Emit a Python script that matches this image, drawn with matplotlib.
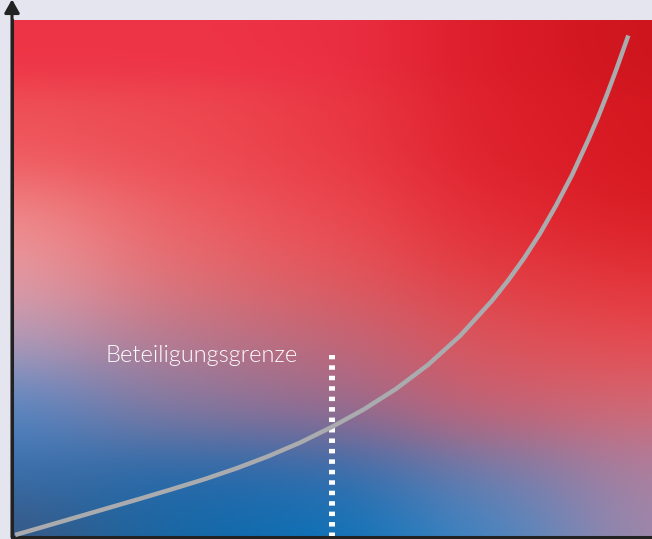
import numpy as np
import matplotlib.pyplot as plt
from matplotlib.colors import to_rgb

# curve (x and y in 0..100 of the plotting box)
curve_x = [0.5, 5, 10, 15, 20, 25, 30, 35, 40, 45, 50, 55, 60, 65, 70, 75, 77.5, 80,
           82.5, 85, 87.5, 90, 91.5, 93, 94.5, 96.3]
curve_y = [0.4, 2.0, 3.8, 5.6, 7.4, 9.25, 11.15, 13.25, 15.6, 18.25, 21.3, 24.7, 28.65,
           33.3, 38.9, 45.7, 49.6, 53.9, 58.7, 64.1, 70.0, 76.7, 81.0, 85.7, 90.7, 97.0]

limit_x = 50
limit_top = 35.2
limit_label = "Beteiligungsgrenze"

# background colour field, sampled on a grid (rows bottom -> top, columns left -> right)
grad_u = [0.0, 0.25, 0.5, 0.75, 1.0]
grad_v = [0.0, 0.12, 0.25, 0.38, 0.5, 0.62, 0.75, 1.0]
grad_rows = [
    ["#3c5278", "#1468a6", "#0472b8", "#3c88c8", "#a888a8"],
    ["#3a70ac", "#2268aa", "#2a6cb0", "#7080b0", "#b080a0"],
    ["#5088c8", "#8a7aa0", "#9a6c90", "#cc6070", "#d46a74"],
    ["#b0a0c0", "#b47a90", "#bc6a7c", "#de545a", "#e84a50"],
    ["#e8a0a8", "#e27074", "#e45a5e", "#e23c42", "#e33338"],
    ["#f09090", "#ec6064", "#ec4a52", "#e22a34", "#da1c24"],
    ["#ee5258", "#ee4a52", "#ea3a46", "#de1f2a", "#d4171f"],
    ["#ee3446", "#ee3447", "#ec3045", "#dc1c28", "#cc141c"],
]


def gradient_image(w=320, h=260, su=0.13, sv=0.075):
    uu, vv = np.meshgrid(np.linspace(0, 1, w), np.linspace(1, 0, h))
    num = np.zeros((h, w, 3))
    den = np.zeros((h, w))
    for v, row in zip(grad_v, grad_rows):
        for u, c in zip(grad_u, row):
            wgt = np.exp(-((uu - u) / su) ** 2 / 2 - ((vv - v) / sv) ** 2 / 2)
            num += wgt[..., None] * np.array(to_rgb(c))
            den += wgt
    return num / den[..., None]


fig = plt.figure(figsize=(6.52, 5.39), dpi=100)
fig.patch.set_facecolor("#e4e5ee")
ax = fig.add_axes([12 / 652, 2 / 539, 640 / 652, 517 / 539])

ax.imshow(gradient_image(), extent=[0, 100, 0, 100], aspect="auto",
          interpolation="bicubic", zorder=0)

ax.plot(curve_x, curve_y, color="#a9abae", lw=3.2, solid_capstyle="butt",
        solid_joinstyle="round", zorder=3)
ax.plot([limit_x, limit_x], [0, limit_top], color="white", lw=4.3,
        linestyle=(0, (0.75, 1.0)), dash_capstyle="butt", zorder=2)
ax.text(limit_x - 5.3, 33.9, limit_label, ha="right", va="baseline",
        fontsize=17, family="Lato", fontweight=300, color="white", zorder=4)

ax.set_xlim(0, 100)
ax.set_ylim(0, 100)
ax.set_xticks([])
ax.set_yticks([])
for s in ["top", "right"]:
    ax.spines[s].set_visible(False)
for s in ["left", "bottom"]:
    ax.spines[s].set_color("#222222")
    ax.spines[s].set_linewidth(2.2)

# axis arrow running up past the plotting box
ax.annotate("", xy=(0, 1.04), xytext=(0, 0), xycoords="axes fraction",
            arrowprops=dict(arrowstyle="-|>,head_length=0.8,head_width=0.45",
                            color="#222222", lw=2.2, shrinkA=0, shrinkB=0))

fig.savefig("out.png", dpi=100, facecolor=fig.get_facecolor())
